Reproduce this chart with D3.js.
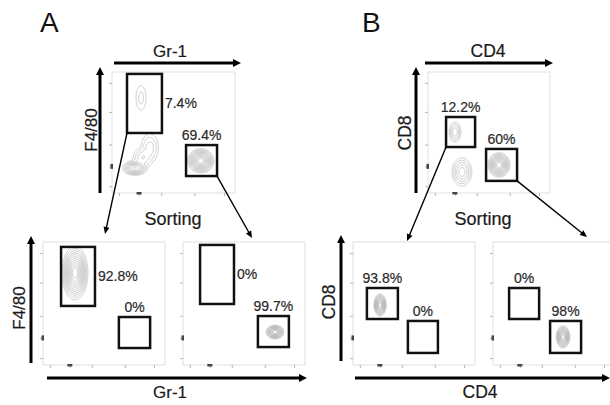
<!DOCTYPE html>
<html>
<head>
<meta charset="utf-8">
<script src="https://cdn.jsdelivr.net/npm/d3@7"></script>
<style>
  html, body { margin: 0; padding: 0; background: #fff; }
  svg { display: block; font-family: "Liberation Sans", Arial, sans-serif; }
</style>
</head>
<body>
<div id="chart"></div>
<script>
const plotIds = ['A0', 'A1', 'A2', 'B0', 'B1', 'B2'];

const gatePlot = ['A0', 'A0', 'A1', 'A1', 'A2', 'A2', 'B0', 'B0', 'B1', 'B1', 'B2', 'B2'];
const gateX = [[0.61, 2.03], [3.01, 4.27], [0.74, 2.13], [3.11, 4.39], [0.70, 2.09], [3.07, 4.34],
               [0.74, 1.93], [2.38, 3.65], [0.57, 1.84], [2.25, 3.48], [0.66, 1.89], [2.34, 3.61]];
const gateY = [[2.48, 4.92], [0.70, 1.98], [2.40, 4.80], [0.69, 1.95], [2.48, 4.88], [0.73, 1.99],
               [1.90, 3.14], [0.50, 1.82], [1.87, 3.13], [0.49, 1.79], [1.87, 3.13], [0.49, 1.79]];
const gatePct = ['7.4%', '69.4%', '92.8%', '0%', '0%', '99.7%',
                 '12.2%', '60%', '93.8%', '0%', '0%', '98%'];
const gateLabelAt = ['right', 'top', 'right', 'top', 'right', 'top',
                     'top', 'top', 'top', 'top', 'top', 'top'];

// cell populations drawn as density contours
const popPlot = ['A0', 'A0', 'A0', 'A0', 'A0', 'A1', 'A2', 'B0', 'B0', 'B0', 'B1', 'B2'];
const popCenter = [[1.18, 3.93], [1.54, 1.88], [1.22, 1.45], [0.93, 1.03], [3.61, 1.33], [1.31, 3.74], [3.77, 1.34],
                   [1.11, 2.52], [1.39, 0.87], [2.91, 1.16], [1.11, 2.44], [2.87, 1.14]];
const popSpread = [[0.15, 0.37], [0.2, 0.33], [0.2, 0.2], [0.2, 0.12], [0.19, 0.18], [0.19, 0.39], [0.13, 0.10],
                   [0.12, 0.21], [0.19, 0.27], [0.16, 0.18], [0.09, 0.16], [0.10, 0.16]];
const popPeak = [0.05, 0.09, 0.1, 0.45, 1, 1, 1, 0.15, 0.2, 1, 1, 1];

const majorTicks = [0.28, 1.1, 2.0, 3.35, 4.55];
const contourLevels = [0.02, 0.04, 0.07, 0.11, 0.16, 0.23, 0.32, 0.43, 0.56, 0.7, 0.85];

const width = 610, height = 405;

// frame of each dot plot, in pixels
const frames = {
  A0: { x: 112, y: 72, w: 123, h: 121 },
  A1: { x: 43, y: 242, w: 122, h: 123 },
  A2: { x: 183, y: 242, w: 122, h: 123 },
  B0: { x: 428, y: 72, w: 122, h: 121 },
  B1: { x: 353, y: 242, w: 122, h: 123 },
  B2: { x: 493, y: 242, w: 122, h: 123 }
};

const svg = d3.select('#chart').append('svg')
    .attr('width', width)
    .attr('height', height);

const scales = {};
plotIds.forEach(id => {
  const f = frames[id];
  scales[id] = {
    x: d3.scaleLinear().domain([0, 5]).range([f.x, f.x + f.w]),
    y: d3.scaleLinear().domain([0, 5]).range([f.y + f.h, f.y])
  };
});

// minor ticks: log spacing within the decades, plain spacing near zero
const minorTicks = [];
[[0.28, 1.1, 'lin'], [1.1, 2.0, 'lin'], [2.0, 3.35, 'log'], [3.35, 4.55, 'log'], [4.55, 5.75, 'log']].forEach(([a, b, kind]) => {
  for (let k = 2; k <= 9; k++) {
    const t = kind === 'log' ? a + (b - a) * Math.log10(k) : a + (b - a) * (k - 1) / 9;
    if (t < 5 && (kind === 'log' || k % 3 === 0)) minorTicks.push(t);
  }
});

const n = 244, step = 5 / n;

plotIds.forEach(id => {
  const f = frames[id], sx = scales[id].x, sy = scales[id].y;
  const g = svg.append('g');

  g.append('rect')
      .attr('x', f.x).attr('y', f.y)
      .attr('width', f.w).attr('height', f.h)
      .attr('fill', 'none')
      .attr('stroke', '#d8d8d8')
      .attr('stroke-width', 0.8);

  // ticks
  const xAxisG = g.append('g').attr('transform', `translate(0,${f.y + f.h})`);
  xAxisG.call(d3.axisBottom(sx).tickValues(minorTicks).tickSize(1.5).tickFormat(''));
  xAxisG.call(d3.axisBottom(sx).tickValues(majorTicks).tickSize(3).tickFormat(''));
  const yAxisG = g.append('g').attr('transform', `translate(${f.x},0)`);
  yAxisG.call(d3.axisLeft(sy).tickValues(minorTicks).tickSize(1.5).tickFormat(''));
  yAxisG.call(d3.axisLeft(sy).tickValues(majorTicks).tickSize(3).tickFormat(''));
  g.selectAll('.domain').remove();
  g.selectAll('.tick line').attr('stroke', '#999').attr('stroke-width', 0.7);
  g.append('rect')
      .attr('x', sx(1.1) - 2.5).attr('y', f.y + f.h - 1)
      .attr('width', 5).attr('height', 2.5).attr('fill', '#444');
  g.append('rect')
      .attr('x', f.x - 1.5).attr('y', sy(1.1) - 2.5)
      .attr('width', 2.5).attr('height', 5).attr('fill', '#444');

  // density contours
  const pops = d3.range(popPlot.length).filter(i => popPlot[i] === id);
  if (pops.length) {
    const values = new Float64Array(n * n);
    for (let j = 0; j < n; j++) {
      const yv = 5 - (j + 0.5) * step;
      for (let i = 0; i < n; i++) {
        const xv = (i + 0.5) * step;
        let v = 0;
        pops.forEach(p => {
          const dx = (xv - popCenter[p][0]) / popSpread[p][0];
          const dy = (yv - popCenter[p][1]) / popSpread[p][1];
          v += popPeak[p] * Math.exp(-0.5 * (dx * dx + dy * dy));
        });
        values[j * n + i] = v;
      }
    }
    const proj = d3.geoTransform({
      point: function(x, y) { this.stream.point(sx(x * step), sy(5 - y * step)); }
    });
    const path = d3.geoPath(proj);
    g.append('g')
        .attr('fill', 'none')
        .attr('stroke', '#a4a4a4')
        .attr('stroke-width', 0.55)
      .selectAll('path')
      .data(d3.contours().size([n, n]).thresholds(contourLevels)(values))
      .join('path')
        .attr('d', path);
  }
});

// gates and their percentages
const gates = d3.range(gatePlot.length).map(i => ({
  plot: gatePlot[i], x: gateX[i], y: gateY[i], pct: gatePct[i], at: gateLabelAt[i]
}));

svg.append('g')
  .selectAll('rect')
  .data(gates)
  .join('rect')
    .attr('x', d => scales[d.plot].x(d.x[0]))
    .attr('y', d => scales[d.plot].y(d.y[1]))
    .attr('width', d => scales[d.plot].x(d.x[1]) - scales[d.plot].x(d.x[0]))
    .attr('height', d => scales[d.plot].y(d.y[0]) - scales[d.plot].y(d.y[1]))
    .attr('fill', 'none')
    .attr('stroke', '#111')
    .attr('stroke-width', 2.5);

svg.append('g')
    .attr('font-size', 14)
    .attr('fill', '#2a2a2a')
    .attr('stroke', '#2a2a2a')
    .attr('stroke-width', 0.2)
  .selectAll('text')
  .data(gates)
  .join('text')
    .attr('x', d => d.at === 'right' ? scales[d.plot].x(d.x[1]) + 3 : scales[d.plot].x((d.x[0] + d.x[1]) / 2))
    .attr('y', d => d.at === 'right'
      ? scales[d.plot].y((d.y[0] + d.y[1]) / 2) + 5
      : scales[d.plot].y(d.y[1]) - 5)
    .attr('text-anchor', d => d.at === 'right' ? 'start' : 'middle')
    .text(d => d.pct);

// arrows
function arrow(x1, y1, x2, y2, sw, hl, hw) {
  const a = Math.atan2(y2 - y1, x2 - x1), c = Math.cos(a), s = Math.sin(a);
  const bx = x2 - hl * c, by = y2 - hl * s;
  svg.append('line')
      .attr('x1', x1).attr('y1', y1).attr('x2', bx + c).attr('y2', by + s)
      .attr('stroke', '#000').attr('stroke-width', sw);
  svg.append('path')
      .attr('d', `M${x2},${y2}L${bx - hw / 2 * s},${by + hw / 2 * c}L${bx + hw / 2 * s},${by - hw / 2 * c}Z`)
      .attr('fill', '#000');
}

// axis arrows
arrow(114, 63, 241, 63, 3, 8, 8);
arrow(100, 193, 100, 67, 3, 8, 8);
arrow(425, 63, 553, 63, 3, 8, 8);
arrow(416, 193, 416, 67, 3, 8, 8);
arrow(31, 363, 31, 236, 3, 8, 8);
arrow(47, 378, 307, 378, 3, 8, 8);
arrow(341, 361, 341, 235, 3, 8, 8);
arrow(355, 378, 610, 378, 3, 8, 8);

// sorting arrows from gate corners
function corner(i, side) {
  const sc = scales[gatePlot[i]];
  return [sc.x(side === 'left' ? gateX[i][0] : gateX[i][1]), sc.y(gateY[i][0])];
}
let p;
p = corner(0, 'left');  arrow(p[0], p[1], 105, 234, 1.4, 7, 6);
p = corner(1, 'right'); arrow(p[0], p[1], 252, 238, 1.4, 7, 6);
p = corner(6, 'left');  arrow(p[0], p[1], 407, 241, 1.4, 7, 6);
p = corner(7, 'right'); arrow(p[0], p[1], 587, 237, 1.4, 7, 6);

// labels
const label = (x, y, t, size, rot) => svg.append('text')
    .attr('transform', `translate(${x},${y})` + (rot ? ' rotate(-90)' : ''))
    .attr('text-anchor', 'middle')
    .attr('font-size', size)
    .attr('fill', '#1a1a1a')
    .attr('stroke', '#1a1a1a')
    .attr('stroke-width', 0.2)
    .text(t);

svg.append('text').attr('x', 40).attr('y', 32).attr('font-size', 28).attr('fill', '#111').text('A');
svg.append('text').attr('x', 362).attr('y', 32).attr('font-size', 28).attr('fill', '#111').text('B');

label(170, 57, 'Gr-1', 17);
label(97, 130, 'F4/80', 17, true);
label(488, 57, 'CD4', 17.5);
label(411, 133, 'CD8', 17.5, true);
label(173, 225, 'Sorting', 18);
label(483, 225, 'Sorting', 18);
label(170, 398, 'Gr-1', 17);
label(25, 308, 'F4/80', 17, true);
label(480, 398, 'CD4', 17.5);
label(335, 302, 'CD8', 17.5, true);
</script>
</body>
</html>
